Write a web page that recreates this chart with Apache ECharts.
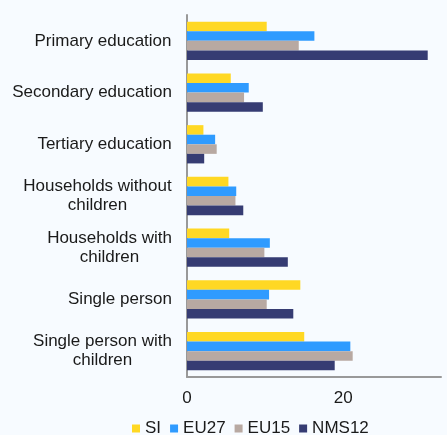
<!DOCTYPE html>
<html>
<head>
<meta charset="utf-8">
<script src="https://cdn.jsdelivr.net/npm/echarts@6/dist/echarts.min.js"></script>
<style>
html,body{margin:0;padding:0;background:#F7FBFF;}
#chart{width:447px;height:435px;}
</style>
</head>
<body>
<div id="chart"></div>
<script>
var categories = ["Primary education", "Secondary education", "Tertiary education", "Households without\nchildren", "Households with\nchildren", "Single person", "Single person with\nchildren"];
var seriesNames = ["SI", "EU27", "EU15", "NMS12"];
var SI    = [10.2, 5.6, 2.1, 5.3, 5.4, 14.5, 15.0];
var EU27  = [16.3, 7.9, 3.6, 6.3, 10.6, 10.5, 20.9];
var EU15  = [14.3, 7.3, 3.8, 6.2, 9.9, 10.2, 21.2];
var NMS12 = [30.8, 9.7, 2.2, 7.2, 12.9, 13.6, 18.9];
var xTicks = [0, 20];

var colors = ["#FFD824", "#2F9BFF", "#B8A9A2", "#363C73"];
var FONT = "Liberation Sans, Arial, sans-serif";
var FS = 17;

// measure widths to center multi-line labels within their block
var ctx = document.createElement("canvas").getContext("2d");
ctx.font = FS + "px " + FONT;
var rich = {};
var labelKey = {};
categories.forEach(function (c, i) {
  var lines = c.split("\n");
  var w = 0;
  lines.forEach(function (l) { w = Math.max(w, ctx.measureText(l).width); });
  var key = "l" + i;
  rich[key] = { width: Math.ceil(w), align: "center", fontSize: FS, fontFamily: FONT, color: "#1a1a1a", lineHeight: 19 };
  labelKey[c] = key;
});

var chart = echarts.init(document.getElementById("chart"), null, { renderer: "canvas" });
var allData = [SI, EU27, EU15, NMS12];
chart.setOption({
  backgroundColor: "#F7FBFF",
  animation: false,
  grid: { left: 187, top: 15, bottom: 58, right: 6, containLabel: false },
  legend: {
    data: seriesNames,
    left: 127,
    top: 415,
    itemWidth: 8,
    itemHeight: 8,
    itemGap: 9,
    icon: "rect",
    textStyle: { fontSize: FS, fontFamily: FONT, color: "#1a1a1a" }
  },
  xAxis: {
    type: "value",
    min: xTicks[0],
    max: 32.5,
    interval: xTicks[1] - xTicks[0],
    splitLine: { show: false },
    axisTick: { show: false },
    axisLine: { show: true, lineStyle: { color: "#999999", width: 2 } },
    axisLabel: { showMaxLabel: false, fontSize: FS, fontFamily: FONT, color: "#1a1a1a", margin: 13 }
  },
  yAxis: {
    type: "category",
    inverse: true,
    data: categories,
    axisTick: { show: false },
    axisLine: { show: true, lineStyle: { color: "#999999", width: 2 } },
    axisLabel: {
      margin: 15,
      formatter: function (v) {
        var k = labelKey[v];
        return v.split("\n").map(function (l) { return "{" + k + "|" + l + "}"; }).join("\n");
      },
      rich: rich
    }
  },
  series: seriesNames.map(function (n, i) {
    return {
      name: n,
      type: "bar",
      data: allData[i],
      barGap: "0%",
      barCategoryGap: "26%",
      itemStyle: { color: colors[i] }
    };
  })
});
</script>
</body>
</html>
